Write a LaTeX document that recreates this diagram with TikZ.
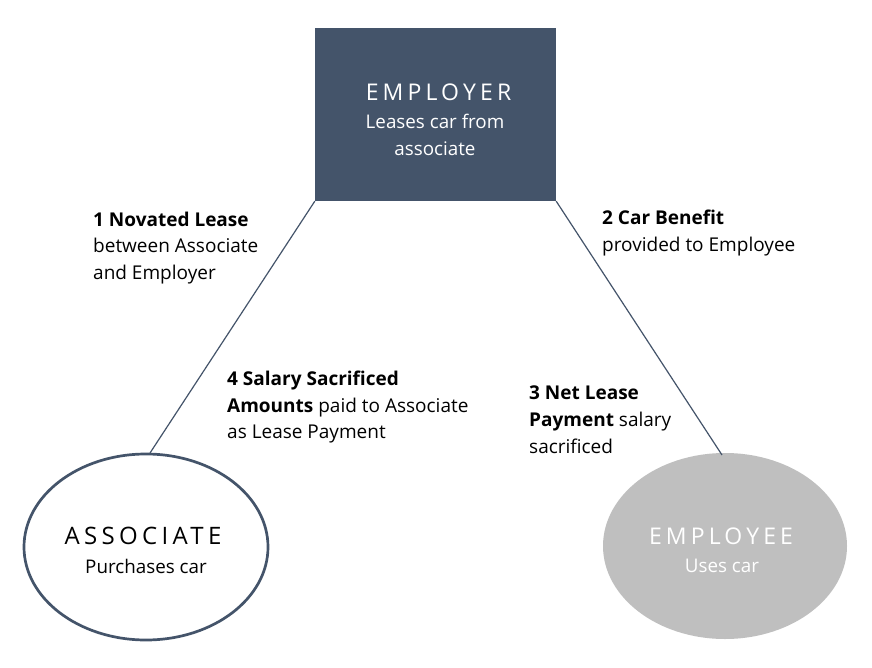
\documentclass[tikz,border=0pt]{standalone}
\usepackage{fontspec}
\usetikzlibrary{shapes.geometric}
\setmainfont{Open Sans}
\newfontfamily\titlefont[LetterSpace=18]{Open Sans}
\definecolor{slate}{HTML}{44546A}
\definecolor{lgray}{HTML}{BFBFBF}
\begin{document}
\begin{tikzpicture}[x=1pt,y=-1pt,
  lbl/.style={anchor=north west,align=left,inner sep=0pt,font=\fontsize{19}{26.6}\selectfont},
  ctr/.style={align=center,inner sep=0pt,font=\fontsize{18.8}{26.5}\selectfont},
  ttl/.style={align=center,inner sep=0pt,font=\titlefont\fontsize{23}{26}\selectfont},
  conn/.style={draw=slate,line width=1.2pt}]
\useasboundingbox (0,0) rectangle (872,668);
\fill[white] (0,0) rectangle (872,668);
% shapes
\node[draw=none,fill=slate,minimum width=241pt,minimum height=173pt,inner sep=0pt] (emp) at (435.5,114.5) {};
\node[ellipse,draw=slate,line width=2.7pt,minimum width=244pt,minimum height=186pt,inner sep=0pt] (assoc) at (146,547) {};
\node[ellipse,fill=lgray,minimum width=244pt,minimum height=186pt,inner sep=0pt] (empl) at (725,546) {};
% texts
\node[ttl,text=white] (empt) at (438.5,92) {EMPLOYER};
\node[ctr,text=white] (empd) at (435,135) {Leases car from\\associate};
\node[ttl,font=\titlefont\fontsize{24}{26}\selectfont] (asst) at (143,536) {ASSOCIATE};
\node[ctr] (assd) at (146,566) {Purchases car};
\node[ttl,text=white] (emplt) at (721,536) {EMPLOYEE};
\node[ctr,text=white] (empld) at (722,566) {Uses car};
% connectors
\coordinate (a1) at (150,453);
\coordinate (b1) at (722,455);
\draw[conn] (emp.south west) -- (a1);
\draw[conn] (emp.south east) -- (b1);
% labels
\node[lbl] (l1) at (93,211.5) {\textbf{1 Novated Lease}\\between Associate\\and Employer};
\node[lbl] (l2) at (602,210) {\textbf{2 Car Benefit}\\provided to Employee};
\node[lbl] (l3) at (529,386) {\textbf{3 Net Lease}\\\textbf{Payment} salary\\sacrificed};
\node[lbl] (l4) at (227,371) {\textbf{4 Salary Sacrificed}\\\textbf{Amounts} paid to Associate\\as Lease Payment};
\end{tikzpicture}
\end{document}
